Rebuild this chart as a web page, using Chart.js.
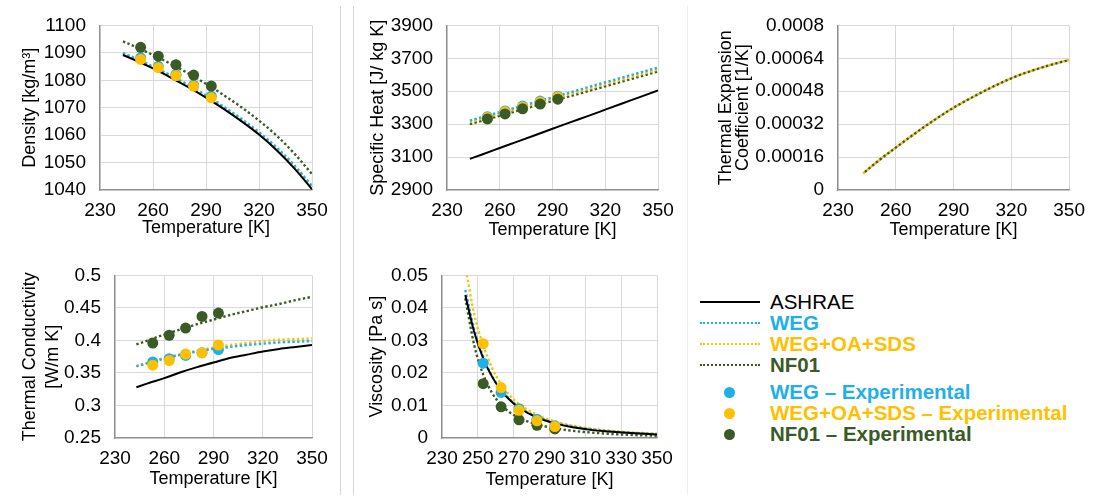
<!DOCTYPE html>
<html>
<head>
<meta charset="utf-8">
<script src="https://cdn.jsdelivr.net/npm/chart.js@4.4.1/dist/chart.umd.min.js"></script>
<style>
  body { margin: 0; background: #fff; }
  #page { position: relative; width: 1094px; height: 499px; overflow: hidden; font-family: 'Liberation Sans', Arial, sans-serif; }
  canvas { position: absolute; }
  .sep { position: absolute; width: 1px; }
  .lg { position: absolute; font-size: 20.5px; line-height: 22px; white-space: nowrap; }
  .sym { position: absolute; }
</style>
</head>
<body>
<div id="page">
  <div class="sep" style="left:340px;top:6px;height:489px;background:#d6d6d6"></div>
  <div class="sep" style="left:353px;top:6px;height:489px;background:#d6d6d6"></div>
  <div class="sep" style="left:687px;top:6px;height:489px;background:#efefef"></div>

  <canvas id="cDensity" width="340" height="250" style="left:0;top:0"></canvas>
  <canvas id="cCp" width="332" height="250" style="left:354px;top:0"></canvas>
  <canvas id="cBeta" width="394" height="250" style="left:700px;top:0"></canvas>
  <canvas id="cK" width="340" height="249" style="left:0;top:250px"></canvas>
  <canvas id="cMu" width="332" height="249" style="left:354px;top:250px"></canvas>

  <div id="legend"></div>
</div>
<script>
// temperatures [K]
const tFit = [243, 250, 260, 270, 280, 290, 300, 310, 320, 330, 340, 350];
const tExp = [253, 263, 273, 283, 293];
const tVisc = [243, 248, 253, 258, 263, 268, 273, 283, 293, 303, 313, 323, 333, 343, 350];

// density [kg/m3]
const rhoAshrae = [1089.2, 1087.3, 1084.3, 1081.0, 1077.5, 1073.7, 1069.6, 1065.1, 1060.2, 1054.5, 1047.9, 1040.3];
const rhoWeg    = [1090.0, 1088.0, 1085.0, 1081.8, 1078.3, 1074.5, 1070.4, 1066.0, 1061.1, 1055.5, 1049.0, 1041.5];
const rhoWegOa  = [1089.7, 1087.7, 1084.7, 1081.5, 1078.0, 1074.2, 1070.1, 1065.6, 1060.7, 1055.1, 1048.6, 1041.0];
const rhoNf01   = [1094.2, 1092.2, 1089.2, 1086.0, 1082.5, 1078.7, 1074.6, 1070.2, 1065.3, 1059.8, 1053.3, 1045.8];
const rhoWegExp   = [1088.2, 1085.1, 1082.1, 1078.2, 1074.2];
const rhoWegOaExp = [1087.6, 1084.6, 1081.7, 1077.8, 1073.6];
const rhoNf01Exp  = [1092.0, 1088.8, 1085.7, 1081.9, 1077.9];

// specific heat [J/kg K]
const cpAshrae = [3089, 3116, 3155, 3194, 3233, 3272, 3311, 3349, 3388, 3427, 3466, 3505];
const cpWeg    = [3322, 3343, 3373, 3403, 3433, 3463, 3493, 3524, 3554, 3584, 3614, 3644];
const cpWegOa  = [3312, 3333, 3363, 3393, 3423, 3453, 3482, 3512, 3542, 3572, 3602, 3632];
const cpNf01   = [3300, 3321, 3351, 3381, 3411, 3441, 3470, 3500, 3530, 3560, 3590, 3620];
const cpWegExp   = [3345, 3380, 3410, 3440, 3470];
const cpWegOaExp = [3340, 3375, 3405, 3435, 3465];
const cpNf01Exp  = [3332, 3362, 3393, 3422, 3452];

// thermal expansion coefficient [1/K]
const betaFit = [0.00008, 0.000135, 0.000206, 0.000275, 0.00034, 0.0004, 0.000452, 0.0005, 0.000543, 0.000578, 0.000607, 0.000632];

// thermal conductivity [W/m K]
const kAshrae = [0.328, 0.334, 0.342, 0.351, 0.359, 0.366, 0.373, 0.378, 0.383, 0.387, 0.390, 0.393];
const kWeg    = [0.360, 0.365, 0.372, 0.378, 0.383, 0.387, 0.390, 0.393, 0.395, 0.397, 0.398, 0.399];
const kWegOa  = [0.361, 0.366, 0.373, 0.379, 0.384, 0.389, 0.393, 0.396, 0.399, 0.401, 0.402, 0.403];
const kNf01   = [0.394, 0.400, 0.409, 0.417, 0.425, 0.432, 0.439, 0.445, 0.451, 0.456, 0.462, 0.467];
const kWegExp   = [0.367, 0.372, 0.377, 0.381, 0.386];
const kWegOaExp = [0.362, 0.369, 0.379, 0.381, 0.393];
const kNf01Exp  = [0.396, 0.408, 0.419, 0.437, 0.442];

// viscosity [Pa s]
const muAshrae = [0.0440, 0.0325, 0.0245, 0.0188, 0.0146, 0.0116, 0.0093, 0.0063, 0.0045, 0.0033, 0.0025, 0.0020, 0.0016, 0.0013, 0.0011];
const muWeg    = [0.0455, 0.0335, 0.0250, 0.0190, 0.0148, 0.0118, 0.0095, 0.0065, 0.0047, 0.0035, 0.0027, 0.0021, 0.0017, 0.0014, 0.0012];
const muWegOa  = [0.0530, 0.0380, 0.0285, 0.0215, 0.0165, 0.0130, 0.0104, 0.0071, 0.0051, 0.0038, 0.0029, 0.0023, 0.0018, 0.0015, 0.0013];
const muNf01   = [0.0430, 0.0285, 0.0195, 0.0138, 0.0102, 0.0078, 0.0062, 0.0042, 0.0030, 0.0022, 0.0017, 0.0013, 0.0010, 0.0008, 0.0007];
const muWegExp   = [0.0230, 0.0140, 0.0090, 0.0058, 0.0038];
const muWegOaExp = [0.0290, 0.0155, 0.0085, 0.0053, 0.0035];
const muNf01Exp  = [0.0167, 0.0096, 0.0056, 0.0039, 0.0028];

const BLUE = '#1fb0e8';
const YELLOW = '#ffc000';
const GREEN = '#3a5b25';

Chart.defaults.font.family = "'Liberation Sans', Arial, sans-serif";
Chart.defaults.font.size = 19;
Chart.defaults.color = '#000';

function pts(xs, ys) {
    return xs.map((x, i) => ({x: x, y: ys[i]}));
}

function line(xs, ys, color, dotted, order, dashOffset) {
    return {
        data: pts(xs, ys),
        showLine: true,
        borderColor: color,
        borderWidth: dotted ? 2.4 : 2,
        borderDash: dotted ? [2.4, 2.4] : [],
        borderDashOffset: dashOffset || 0,
        pointRadius: 0,
        cubicInterpolationMode: 'monotone',
        order: order
    };
}

function marks(xs, ys, color, order) {
    return {
        data: pts(xs, ys),
        showLine: false,
        pointRadius: 5.5,
        pointBorderWidth: 0,
        backgroundColor: color,
        borderColor: color,
        order: order
    };
}

const fmt = v => String(+(+v).toFixed(6));

function panel(id, o) {
    new Chart(document.getElementById(id), {
        type: 'scatter',
        data: {datasets: o.datasets},
        options: {
            responsive: false,
            animation: false,
            events: [],
            layout: {autoPadding: false, padding: {left: 0, top: o.top, right: o.right, bottom: 0}},
            plugins: {legend: {display: false}, tooltip: {enabled: false}},
            scales: {
                x: {
                    type: 'linear', min: 230, max: 350,
                    ticks: {stepSize: o.xStep, padding: 9, callback: fmt, maxRotation: 0, autoSkip: false},
                    grid: {color: '#d9d9d9', lineWidth: 1, drawTicks: false},
                    border: {color: '#8f8f8f', width: 1.3},
                    title: {display: true, text: 'Temperature [K]', padding: {top: 0, bottom: o.xTitlePad},
                            font: {size: 18}},
                    afterFit: s => { s.height = o.xHeight; }
                },
                y: {
                    type: 'linear', min: o.yMin, max: o.yMax,
                    ticks: {stepSize: o.yStep, padding: 14, callback: fmt, autoSkip: false},
                    grid: {color: '#d9d9d9', lineWidth: 1, drawTicks: false},
                    border: {color: '#8f8f8f', width: 1.3},
                    title: {display: true, text: o.yTitle, padding: {top: o.yTitlePad, bottom: 0},
                            font: {size: 18, lineHeight: o.yTitleLH || 1.2}},
                    afterFit: s => { s.width = o.yWidth; }
                }
            }
        }
    });
}

panel('cDensity', {
    top: 22, right: 28, yWidth: 100, xHeight: 60, xTitlePad: 11, yTitlePad: 19,
    yTitle: 'Density [kg/m³]', yMin: 1040, yMax: 1100, yStep: 10, xStep: 30,
    datasets: [
        marks(tExp, rhoNf01Exp, GREEN, 0),
        marks(tExp, rhoWegOaExp, YELLOW, 1),
        marks(tExp, rhoWegExp, BLUE, 2),
        line(tFit, rhoAshrae, '#000', false, 3),
        line(tFit, rhoWeg, BLUE, true, 4),
        line(tFit, rhoWegOa, YELLOW, true, 5),
        line(tFit, rhoNf01, GREEN, true, 6)
    ]
});

panel('cCp', {
    top: 22, right: 28, yWidth: 93, xHeight: 60, xTitlePad: 9, yTitlePad: 13,
    yTitle: 'Specific Heat [J/ kg K]', yMin: 2900, yMax: 3900, yStep: 200, xStep: 30,
    datasets: [
        marks(tExp, cpNf01Exp, GREEN, 0),
        marks(tExp, cpWegOaExp, YELLOW, 1),
        marks(tExp, cpWegExp, BLUE, 2),
        line(tFit, cpAshrae, '#000', false, 3),
        line(tFit, cpWeg, BLUE, true, 4),
        line(tFit, cpWegOa, YELLOW, true, 5),
        line(tFit, cpNf01, GREEN, true, 6)
    ]
});

panel('cBeta', {
    top: 22, right: 22, yWidth: 138, xHeight: 60, xTitlePad: 9, yTitlePad: 17.5, yTitleLH: '17px',
    yTitle: ['Thermal Expansion', 'Coefficient [1/K]'], yMin: 0, yMax: 0.0008, yStep: 0.00016, xStep: 30,
    datasets: [
        line(tFit, betaFit, YELLOW, true, 5),
        line(tFit, betaFit, GREEN, true, 4, 2.4)
    ]
});

panel('cK', {
    top: 21, right: 28, yWidth: 115, xHeight: 61, xTitlePad: 9, yTitlePad: 18.5, yTitleLH: '23px',
    yTitle: ['Thermal Conductivity', '[W/m K]'], yMin: 0.25, yMax: 0.5, yStep: 0.05, xStep: 30,
    datasets: [
        marks(tExp, kNf01Exp, GREEN, 0),
        marks(tExp, kWegOaExp, YELLOW, 1),
        marks(tExp, kWegExp, BLUE, 2),
        line(tFit, kAshrae, '#000', false, 3),
        line(tFit, kWeg, BLUE, true, 4),
        line(tFit, kWegOa, YELLOW, true, 5),
        line(tFit, kNf01, GREEN, true, 6)
    ]
});

panel('cMu', {
    top: 20, right: 29, yWidth: 88, xHeight: 61, xTitlePad: 8, yTitlePad: 12,
    yTitle: 'Viscosity [Pa s]', yMin: 0, yMax: 0.05, yStep: 0.01, xStep: 20,
    datasets: [
        marks(tExp, muNf01Exp, GREEN, 2),
        marks(tExp, muWegOaExp, YELLOW, 0),
        marks(tExp, muWegExp, BLUE, 1),
        line(tVisc, muAshrae, '#000', false, 3),
        line(tVisc, muWeg, BLUE, true, 4),
        line(tVisc, muWegOa, YELLOW, true, 5),
        line(tVisc, muNf01, GREEN, true, 6)
    ]
});

// legend
const legendItems = [
    {label: 'ASHRAE', color: '#000', kind: 'solid', y: 302, bold: false},
    {label: 'WEG', color: BLUE, kind: 'dot', y: 323, bold: true},
    {label: 'WEG+OA+SDS', color: YELLOW, kind: 'dot', y: 344, bold: true},
    {label: 'NF01', color: GREEN, kind: 'dot', y: 365, bold: true},
    {label: 'WEG – Experimental', color: BLUE, kind: 'marker', y: 392, bold: true},
    {label: 'WEG+OA+SDS – Experimental', color: YELLOW, kind: 'marker', y: 413, bold: true},
    {label: 'NF01 – Experimental', color: GREEN, kind: 'marker', y: 434, bold: true}
];
const legend = document.getElementById('legend');
legendItems.forEach(item => {
    const sym = document.createElement('div');
    sym.className = 'sym';
    if (item.kind === 'marker') {
        sym.style.cssText = 'left:724px;top:' + (item.y - 5.5) + 'px;width:11px;height:11px;border-radius:50%;background:' + item.color;
    } else if (item.kind === 'solid') {
        sym.style.cssText = 'left:700px;top:' + (item.y - 1) + 'px;width:60px;border-top:2.5px solid ' + item.color;
    } else {
        sym.style.cssText = 'left:700px;top:' + (item.y - 1) + 'px;width:60px;border-top:2.5px dotted ' + item.color;
    }
    legend.appendChild(sym);

    const txt = document.createElement('div');
    txt.className = 'lg';
    txt.textContent = item.label;
    txt.style.left = '770px';
    txt.style.top = (item.y - 11) + 'px';
    txt.style.color = item.color;
    txt.style.fontWeight = item.bold ? 'bold' : 'normal';
    legend.appendChild(txt);
});
</script>
</body>
</html>
